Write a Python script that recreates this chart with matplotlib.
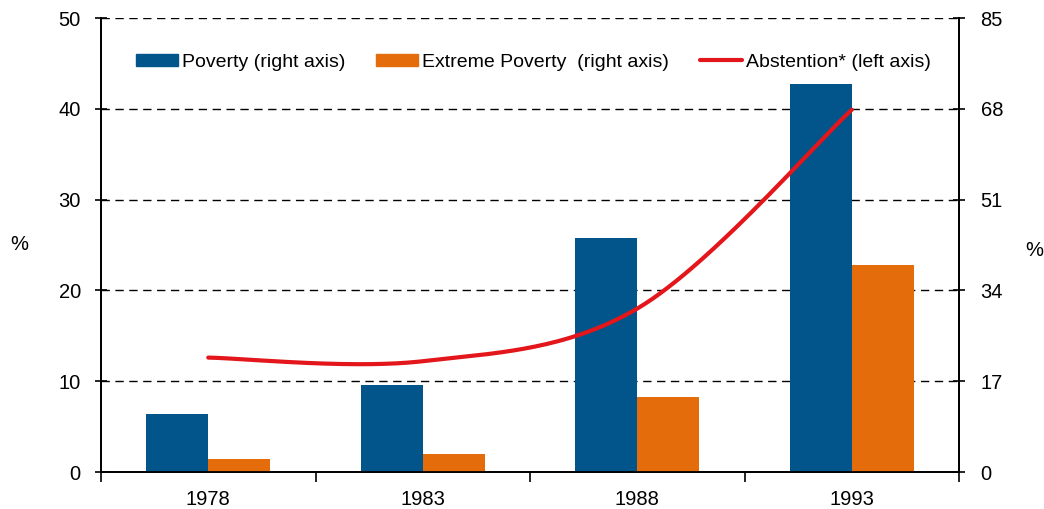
import numpy as np
import matplotlib
matplotlib.use("Agg")
import matplotlib.pyplot as plt
from matplotlib.patches import Patch
from matplotlib.lines import Line2D

plt.rcParams['font.family'] = ['Liberation Sans', 'DejaVu Sans']

years = ['1978', '1983', '1988', '1993']
poverty = [10.8, 16.2, 43.9, 72.6]          # right axis
extreme_poverty = [2.4, 3.4, 14.1, 38.7]    # right axis
abstention = [12.6, 12.2, 18.0, 39.9]       # left axis

left_ticks = [0, 10, 20, 30, 40, 50]
right_ticks = [0, 17, 34, 51, 68, 85]

c_blue = '#02558A'
c_orange = '#E46C0A'
c_red = '#E3161B'

fig = plt.figure(figsize=(10.44, 5.09), dpi=100)
ax = fig.add_axes([101/1044, 37/509, 858/1044, 454/509])
ax2 = ax.twinx()

x = np.arange(len(years))
w = 0.29
ax2.bar(x - w/2, poverty, width=w, color=c_blue, zorder=3)
ax2.bar(x + w/2, extreme_poverty, width=w, color=c_orange, zorder=3)
ax2.set_ylim(0, 85)
ax2.set_yticks(right_ticks)
ax2.yaxis.grid(True, linestyle=(0, (6, 4)), color='black', linewidth=1.0, zorder=0)
ax2.set_axisbelow(True)

# smooth line (Catmull-Rom through the data points)
xs = x.astype(float)
ys = np.array(abstention, dtype=float)
px = np.concatenate([[xs[0]], xs, [xs[-1]]])
py = np.concatenate([[ys[0]], ys, [ys[-1]]])
cx, cy = [], []
t = np.linspace(0, 1, 60)
def cr(a, b, c, d):
    return 0.5 * ((2*b) + (-a + c)*t + (2*a - 5*b + 4*c - d)*t**2 + (-a + 3*b - 3*c + d)*t**3)
for i in range(1, len(px) - 2):
    cx.append(cr(px[i-1], px[i], px[i+1], px[i+2]))
    cy.append(cr(py[i-1], py[i], py[i+1], py[i+2]))
cx = np.concatenate(cx)
cy = np.concatenate(cy)

ax.plot(cx, cy, color=c_red, linewidth=3.0, solid_capstyle='round', zorder=5)
ax.set_ylim(0, 50)
ax.set_yticks(left_ticks)
ax.set_zorder(ax2.get_zorder() + 1)
ax.patch.set_visible(False)

ax.set_xlim(-0.5, len(years) - 0.5)
ax.set_xticks(np.arange(len(years) + 1) - 0.5)
ax.set_xticklabels([''] * (len(years) + 1))
ax.set_xticks(x, minor=True)
ax.set_xticklabels(years, minor=True)
ax.tick_params(axis='x', which='major', direction='out', length=7, width=1.2)
ax.tick_params(axis='x', which='minor', length=0, pad=13, labelsize=14.5)
ax.tick_params(axis='y', direction='inout', length=8, width=1.2, labelsize=14.5, pad=10.5)
ax2.tick_params(axis='y', direction='inout', length=8, width=1.2, labelsize=14.5, pad=11.5)

for a in (ax, ax2):
    a.spines['top'].set_visible(False)
    for s in ('left', 'right', 'bottom'):
        a.spines[s].set_linewidth(1.3)

fig.text(19/1044, 1 - 245/509, '%', fontsize=14.5, ha='center', va='center')
fig.text(1034/1044, 1 - 250/509, '%', fontsize=14.5, ha='center', va='center')

handles = [Patch(color=c_blue), Patch(color=c_orange),
           Line2D([0], [0], color=c_red, linewidth=3.0, solid_capstyle='round')]
labels = ['Poverty (right axis)', 'Extreme Poverty  (right axis)', 'Abstention* (left axis)']
ax.legend(handles, labels, loc='upper center', bbox_to_anchor=(0.504, 0.96), ncol=3,
          frameon=False, fontsize=14, handlelength=2.16, handleheight=0.62,
          handletextpad=0.2, columnspacing=1.6)

fig.savefig('out.png', dpi=100)
